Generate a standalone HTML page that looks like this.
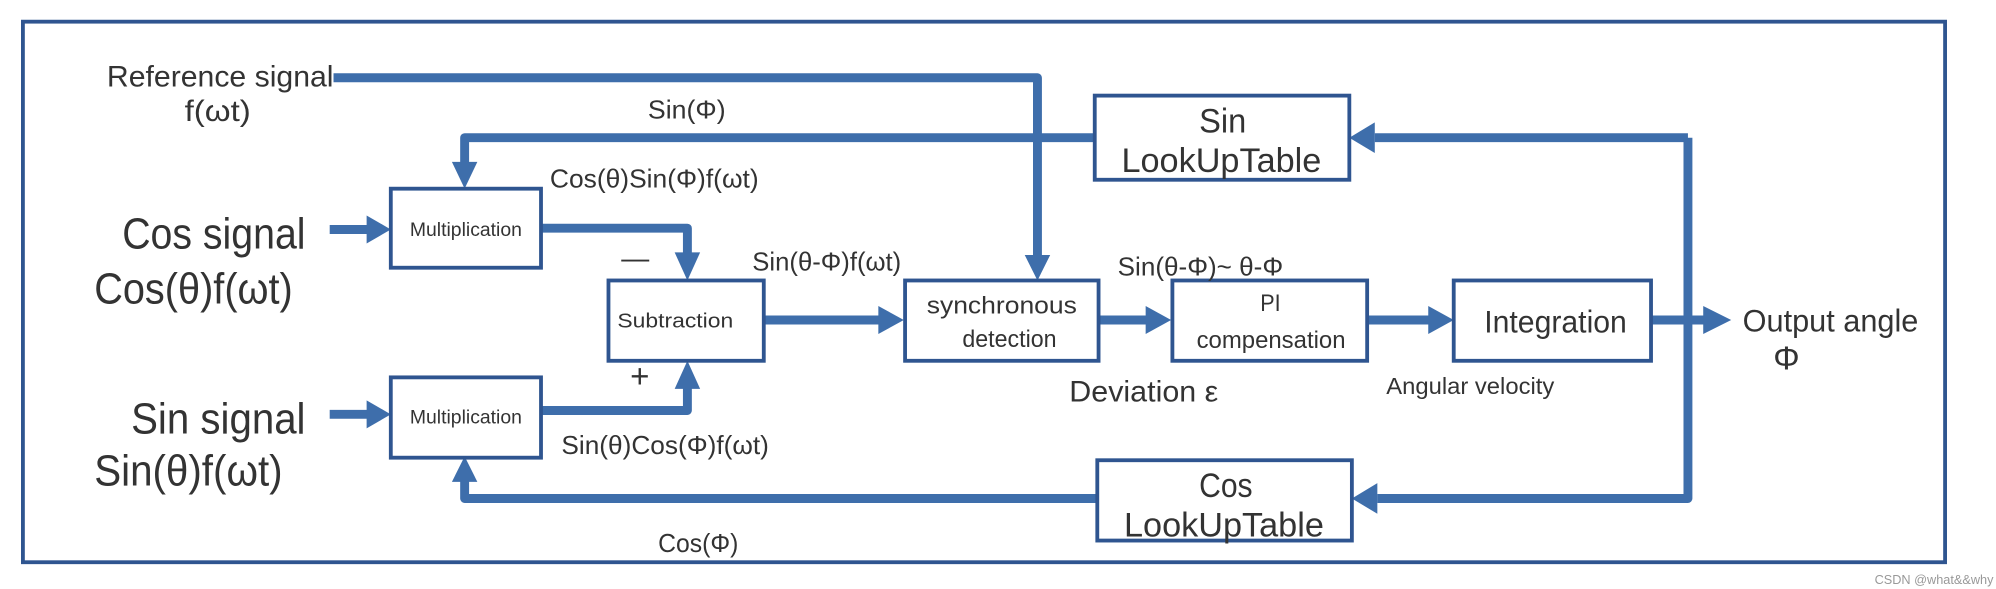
<!DOCTYPE html>
<html><head><meta charset="utf-8"><style>
html,body{margin:0;padding:0;background:#fff;}
svg{display:block;}
text{font-family:"Liberation Sans",sans-serif;fill:#333;}
</style></head><body>
<svg width="1996" height="589" viewBox="0 0 1568 462" preserveAspectRatio="none" xmlns="http://www.w3.org/2000/svg">
<rect x="18" y="17" width="1510" height="424" fill="none" stroke="#2f5590" stroke-width="3"/>
<g fill="none" stroke="#3e6eab" stroke-width="7" stroke-linejoin="round">
<polyline points="262,61 815,61 815,205"/>
<polyline points="860,108 365,108 365,130"/>
<polyline points="1326,108 1080,108"/>
<polyline points="1326,108 1326,391 1082,391"/>
<polyline points="862,391 365,391 365,375"/>
<polyline points="259,180 290,180"/>
<polyline points="259,325 290,325"/>
<polyline points="425,179 540,179 540,200"/>
<polyline points="425,322 540,322 540,302"/>
<polyline points="600,251 692,251"/>
<polyline points="863,251 902,251"/>
<polyline points="1074,251 1124,251"/>
<polyline points="1297,251 1340,251"/>
</g>
<g fill="#3e6eab">
<polygon points="805,200 825,200 815,220"/>
<polygon points="355,127 375,127 365,148"/>
<polygon points="355,378 375,378 365,358"/>
<polygon points="1060,108 1080,96 1080,120"/>
<polygon points="1062,391 1082,379 1082,403"/>
<polygon points="288,169 288,191 307,180"/>
<polygon points="288,314 288,336 307,325"/>
<polygon points="530,198 550,198 540,220"/>
<polygon points="530,305 550,305 540,283"/>
<polygon points="690,240 690,262 710,251"/>
<polygon points="900,240 900,262 920,251"/>
<polygon points="1122,240 1122,262 1142,251"/>
<polygon points="1338,240 1338,262 1360,251"/>
</g>
<g fill="#fff" stroke="#2f5590" stroke-width="3">
<rect x="860" y="75" width="200" height="66"/>
<rect x="862" y="361" width="200" height="63"/>
<rect x="307" y="148" width="118" height="62"/>
<rect x="307" y="296" width="118" height="63"/>
<rect x="478" y="220" width="122" height="63"/>
<rect x="711" y="220" width="152" height="63"/>
<rect x="921" y="220" width="153" height="63"/>
<rect x="1142" y="220" width="155" height="63"/>
</g>
<g>
<text x="942" y="104" font-size="27" textLength="37" lengthAdjust="spacingAndGlyphs">Sin</text>
<text x="881" y="135" font-size="27" textLength="157" lengthAdjust="spacingAndGlyphs">LookUpTable</text>
<text x="942" y="390" font-size="27" textLength="42" lengthAdjust="spacingAndGlyphs">Cos</text>
<text x="883" y="421" font-size="27" textLength="157" lengthAdjust="spacingAndGlyphs">LookUpTable</text>
<text x="322" y="185" font-size="15" textLength="88" lengthAdjust="spacingAndGlyphs">Multiplication</text>
<text x="322" y="332" font-size="15" textLength="88" lengthAdjust="spacingAndGlyphs">Multiplication</text>
<text x="485" y="257" font-size="16" textLength="91" lengthAdjust="spacingAndGlyphs">Subtraction</text>
<text x="728" y="246" font-size="19" textLength="118" lengthAdjust="spacingAndGlyphs">synchronous</text>
<text x="756" y="272" font-size="19" textLength="74" lengthAdjust="spacingAndGlyphs">detection</text>
<text x="990" y="244" font-size="19" textLength="16" lengthAdjust="spacingAndGlyphs">PI</text>
<text x="940" y="273" font-size="19" textLength="117" lengthAdjust="spacingAndGlyphs">compensation</text>
<text x="1166" y="261" font-size="25" textLength="112" lengthAdjust="spacingAndGlyphs">Integration</text>
<text x="84" y="68" font-size="23" textLength="178" lengthAdjust="spacingAndGlyphs">Reference signal</text>
<text x="145" y="95" font-size="23" textLength="52" lengthAdjust="spacingAndGlyphs">f(ωt)</text>
<text x="509" y="93" font-size="20" textLength="61" lengthAdjust="spacingAndGlyphs">Sin(Φ)</text>
<text x="432" y="147" font-size="20" textLength="164" lengthAdjust="spacingAndGlyphs">Cos(θ)Sin(Φ)f(ωt)</text>
<text x="96" y="195" font-size="34" textLength="144" lengthAdjust="spacingAndGlyphs">Cos signal</text>
<text x="74" y="238" font-size="34" textLength="156" lengthAdjust="spacingAndGlyphs">Cos(θ)f(ωt)</text>
<text x="103" y="340" font-size="34" textLength="137" lengthAdjust="spacingAndGlyphs">Sin signal</text>
<text x="74" y="381" font-size="34" textLength="148" lengthAdjust="spacingAndGlyphs">Sin(θ)f(ωt)</text>
<text x="488" y="210" font-size="22">—</text>
<text x="495" y="304" font-size="26">+</text>
<text x="591" y="212" font-size="20" textLength="117" lengthAdjust="spacingAndGlyphs">Sin(θ-Φ)f(ωt)</text>
<text x="878" y="216" font-size="20" textLength="130" lengthAdjust="spacingAndGlyphs">Sin(θ-Φ)~ θ-Φ</text>
<text x="840" y="315" font-size="23" textLength="117" lengthAdjust="spacingAndGlyphs">Deviation ε</text>
<text x="1089" y="309" font-size="18" textLength="132" lengthAdjust="spacingAndGlyphs">Angular velocity</text>
<text x="441" y="356" font-size="20" textLength="163" lengthAdjust="spacingAndGlyphs">Sin(θ)Cos(Φ)f(ωt)</text>
<text x="517" y="433" font-size="20" textLength="63" lengthAdjust="spacingAndGlyphs">Cos(Φ)</text>
<text x="1369" y="260" font-size="25" textLength="138" lengthAdjust="spacingAndGlyphs">Output angle</text>
<text x="1393" y="290" font-size="26">Φ</text>
<text x="1566" y="458" font-size="10" text-anchor="end" style="fill:#999">CSDN @what&amp;&amp;why</text>
</g>
</svg>
</body></html>
